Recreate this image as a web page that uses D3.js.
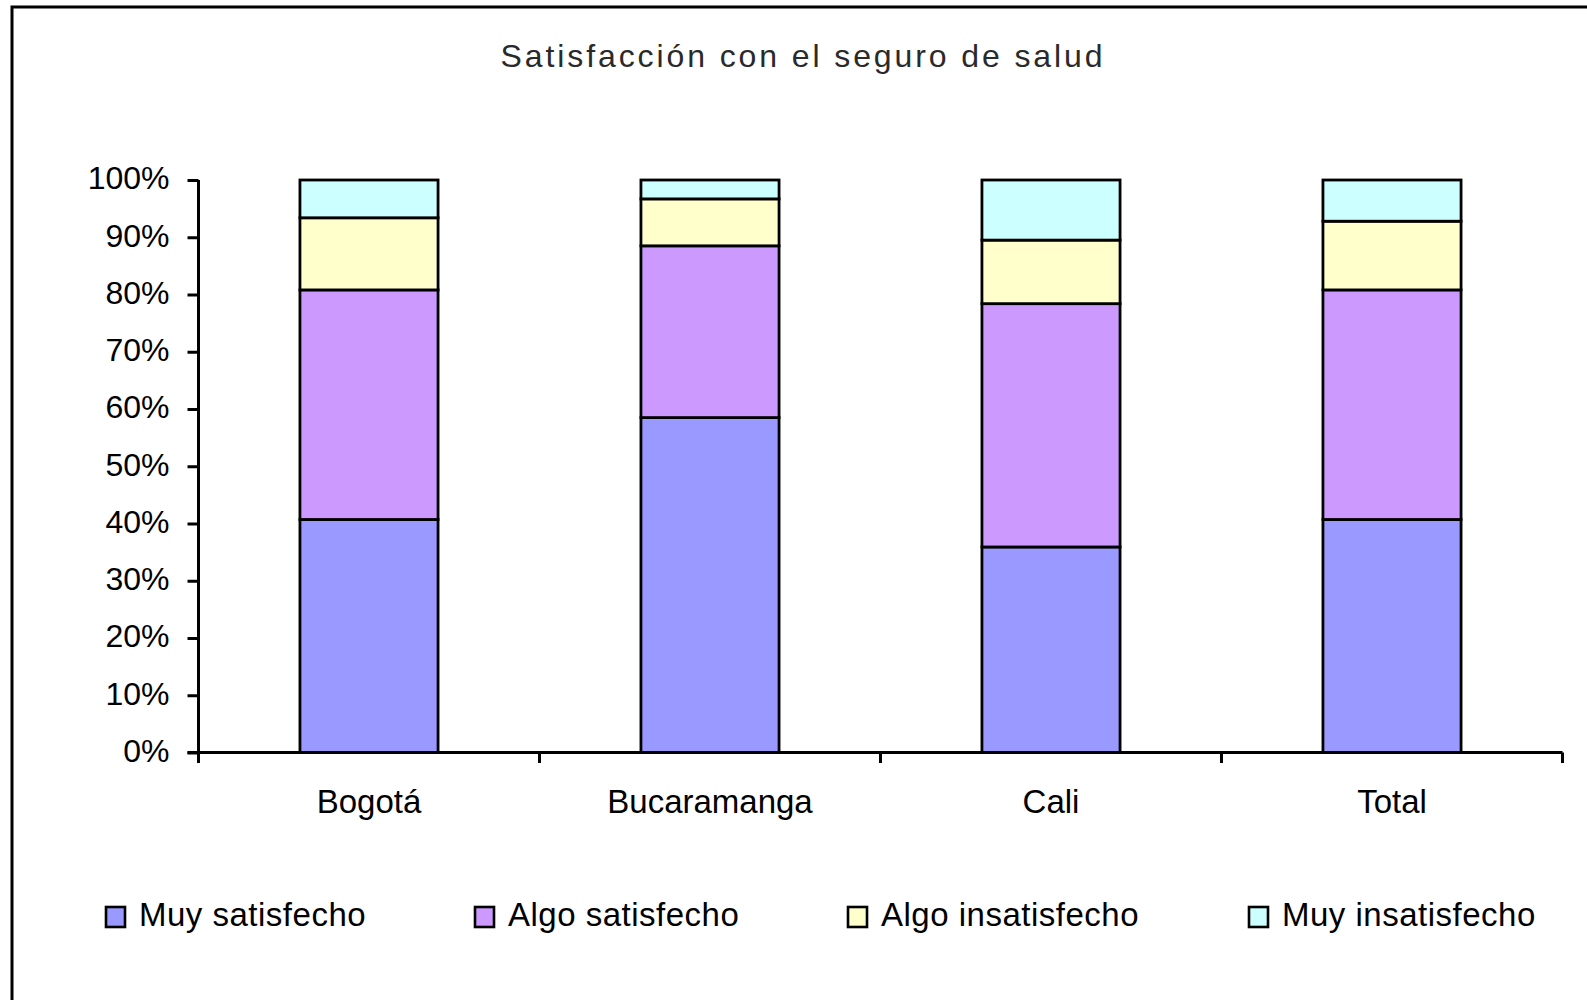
<!DOCTYPE html>
<html>
<head>
<meta charset="utf-8">
<script src="https://cdn.jsdelivr.net/npm/d3@7"></script>
<style>
  body { margin: 0; background: #fff; }
  text { font-family: "Liberation Sans", Arial, sans-serif; fill: #000; }
</style>
</head>
<body>
<div id="chart"></div>
<script>
var width = 1587,
    height = 1000;

// datos (%)
var ciudades = ["Bogotá", "Bucaramanga", "Cali", "Total"];
var series = ["Muy satisfecho", "Algo satisfecho", "Algo insatisfecho", "Muy insatisfecho"];
var muySatisfecho    = [40.7, 58.5, 35.9, 40.7];
var algoSatisfecho   = [40.1, 30.0, 42.5, 40.1];
var algoInsatisfecho = [12.6, 8.2, 11.1, 12.0];
var muyInsatisfecho  = [6.6, 3.3, 10.5, 7.2];
var colores = ["#9999ff", "#cc99ff", "#ffffcc", "#ccffff"];
var yTicks = [0, 10, 20, 30, 40, 50, 60, 70, 80, 90, 100];

var valores = [muySatisfecho, algoSatisfecho, algoInsatisfecho, muyInsatisfecho];

// tabla para d3.stack
var tabla = ciudades.map(function(c, i) {
  var fila = { ciudad: c };
  series.forEach(function(s, j) { fila[s] = valores[j][i]; });
  return fila;
});

var margin = { left: 198.5, right: 24.5, top: 180, bottom: 247.5 };

var svg = d3.select("#chart")
  .append("svg")
    .attr("width", width)
    .attr("height", height);

// marco exterior
svg.append("rect")
  .attr("x", 12)
  .attr("y", 7)
  .attr("width", 1700)
  .attr("height", 1200)
  .attr("fill", "none")
  .attr("stroke", "#000")
  .attr("stroke-width", 3);

svg.append("text")
  .attr("x", 803)
  .attr("y", 67)
  .attr("text-anchor", "middle")
  .style("font-size", "32px")
  .style("letter-spacing", "2.9px")
  .style("fill", "#2a2a2a")
  .text("Satisfacción con el seguro de salud");

var x = d3.scaleBand()
  .domain(ciudades)
  .range([margin.left, width - margin.right])
  .paddingInner(0.595)
  .paddingOuter(0.2975);

var y = d3.scaleLinear()
  .domain([0, 100])
  .range([height - margin.bottom, margin.top]);

var stack = d3.stack().keys(series);
var capas = stack(tabla);

var g = svg.append("g");

g.selectAll("g.capa")
  .data(capas)
  .enter()
  .append("g")
    .attr("class", "capa")
    .attr("fill", function(d, i) { return colores[i]; })
  .selectAll("rect")
  .data(function(d) { return d; })
  .enter()
  .append("rect")
    .attr("x", function(d) { return x(d.data.ciudad); })
    .attr("y", function(d) { return y(d[1]); })
    .attr("width", x.bandwidth())
    .attr("height", function(d) { return y(d[0]) - y(d[1]); })
    .attr("stroke", "#000")
    .attr("stroke-width", 2.8);

// eje Y
var yAxis = d3.axisLeft(y)
  .tickValues(yTicks)
  .tickFormat(function(d) { return d + "%"; })
  .tickSize(11)
  .tickPadding(18);

var gy = svg.append("g")
  .attr("transform", "translate(" + margin.left + ",0)")
  .call(yAxis);
gy.select(".domain").attr("stroke-width", 3).attr("d", "M0," + y(100) + "V" + (y(0) + 10.5));
gy.selectAll(".tick line").attr("stroke-width", 3);
gy.selectAll(".tick text")
  .attr("dy", "0.28em")
  .style("font-size", "32px")
  .style("font-family", "'Liberation Sans', Arial, sans-serif");

// eje X con marcas entre categorias
var gx = svg.append("g")
  .attr("transform", "translate(0," + y(0) + ")");
gx.append("line")
  .attr("x1", margin.left - 11)
  .attr("x2", width - margin.right)
  .attr("stroke", "#000")
  .attr("stroke-width", 3);
var limites = ciudades.map(function(c) { return x(c) - x.step() * x.paddingOuter(); });
limites.push(width - margin.right);
gx.selectAll("line.marca")
  .data(limites)
  .enter()
  .append("line")
    .attr("class", "marca")
    .attr("x1", function(d) { return d; })
    .attr("x2", function(d) { return d; })
    .attr("y1", 0)
    .attr("y2", 10.5)
    .attr("stroke", "#000")
    .attr("stroke-width", 3);
gx.selectAll("text")
  .data(ciudades)
  .enter()
  .append("text")
    .attr("x", function(d) { return x(d) + x.bandwidth() / 2; })
    .attr("y", 60)
    .attr("text-anchor", "middle")
    .style("font-size", "33px")
    .text(function(d) { return d; });

// leyenda
var leyX = [106, 475, 848, 1249];
var ley = svg.selectAll("g.ley")
  .data(series)
  .enter()
  .append("g")
    .attr("class", "ley")
    .attr("transform", function(d, i) { return "translate(" + leyX[i] + ",907)"; });
ley.append("rect")
  .attr("width", 19)
  .attr("height", 20)
  .attr("fill", function(d, i) { return colores[i]; })
  .attr("stroke", "#000")
  .attr("stroke-width", 2.6);
ley.append("text")
  .attr("x", 33)
  .attr("y", 19)
  .style("font-size", "33px")
  .style("letter-spacing", "0.5px")
  .text(function(d) { return d; });
</script>
</body>
</html>
